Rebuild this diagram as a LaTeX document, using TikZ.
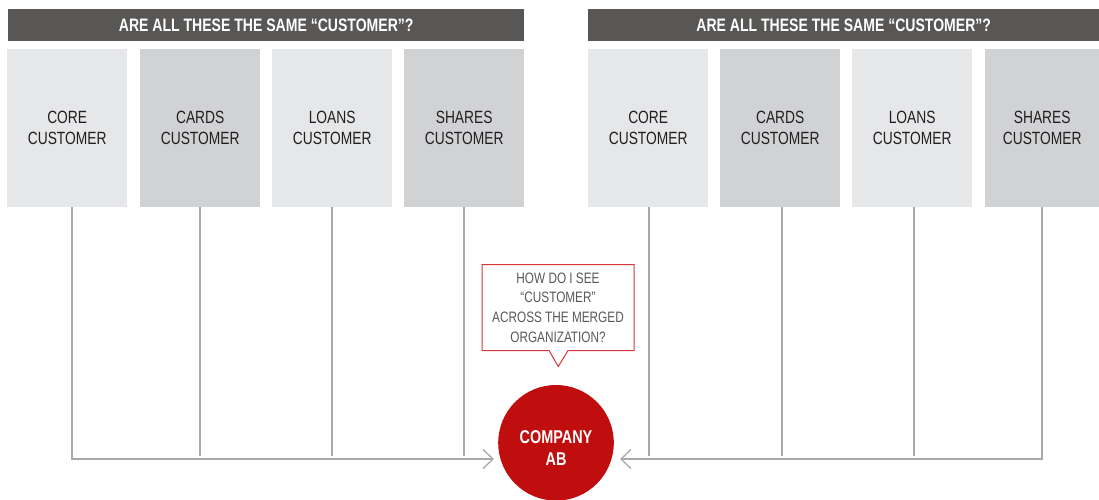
\documentclass[tikz,border=0pt]{standalone}
\usepackage{fontspec}
\setmainfont[FakeStretch=0.78]{Liberation Sans}
\usetikzlibrary{arrows.meta,calc}
\definecolor{hdr}{HTML}{585756}
\definecolor{boxA}{HTML}{E6E7E8}
\definecolor{boxB}{HTML}{D1D2D4}
\definecolor{connc}{HTML}{A7A9AC}
\definecolor{cored}{HTML}{C00D0D}
\definecolor{callred}{HTML}{D6373C}
\definecolor{calltext}{HTML}{58595B}
\definecolor{boxtext}{HTML}{231F20}
\begin{document}
\begin{tikzpicture}[x=1pt,y=-1pt,
  header/.style={fill=hdr,text=white,minimum height=32pt,inner sep=0pt,anchor=north west,minimum width=#1,font=\bfseries\fontsize{18}{20}\selectfont},
  custbox/.style={fill=#1,minimum width=120pt,minimum height=158pt,inner sep=0pt,anchor=north west,align=center,text=boxtext,font=\fontsize{17.7}{21}\selectfont},
  connline/.style={draw=connc,line width=1.5pt},
  conntip/.style={connline,-{Straight Barb[length=10pt,width=19pt,line width=1.3pt]}},
  callbox/.style={draw=callred,line width=1pt,fill=white},
  calltxt/.style={align=center,text=calltext,inner sep=0pt,font=\fontsize{15.1}{19.6}\selectfont},
  companydisc/.style={circle,fill=cored,minimum size=115.6pt,inner sep=0pt},
  companytxt/.style={align=center,text=white,inner sep=0pt,font=\bfseries\fontsize{18.5}{22}\selectfont}
]
\useasboundingbox (0,0) rectangle (1099,499);

% headers
\node[header=516pt] (hl) at (8,9) {ARE ALL THESE THE SAME “CUSTOMER”?};
\node[header=511pt] (hr) at (588,9) {ARE ALL THESE THE SAME “CUSTOMER”?};

% left boxes
\node[custbox=boxA] (l1) at (7,49)   {CORE\\CUSTOMER};
\node[custbox=boxB] (l2) at (140,49) {CARDS\\CUSTOMER};
\node[custbox=boxA] (l3) at (272,49) {LOANS\\CUSTOMER};
\node[custbox=boxB] (l4) at (404,49) {SHARES\\CUSTOMER};

% right boxes
\node[custbox=boxA] (r1) at (588,49) {CORE\\CUSTOMER};
\node[custbox=boxB] (r2) at (720,49) {CARDS\\CUSTOMER};
\node[custbox=boxA] (r3) at (852,49) {LOANS\\CUSTOMER};
\node[custbox=boxB,minimum width=114pt] (r4) at (985,49) {SHARES\\CUSTOMER};

% company
\node[companydisc] (company) at (556,442.8) {};
\node[companytxt] (companylbl) at (556,448) {COMPANY\\AB};

% callout
\draw[callbox] (482,264.5) -- (634,264.5) -- (634,350.5) -- (568,350.5) -- (558.3,366.5) -- (549,350.5) -- (482,350.5) -- cycle;
\node[calltxt] (callout) at (558,307.5) {HOW DO I SEE\\“CUSTOMER”\\ACROSS THE MERGED\\ORGANIZATION?};

% connectors
\coordinate (arrL) at (494,459);
\coordinate (arrR) at (620,459);
\coordinate (bot) at (0,456);

\draw[conntip] ([xshift=5pt]l1.south) |- (arrL);
\draw[connline] (l2.south) -- (l2.south |- bot);
\draw[connline] (l3.south) -- (l3.south |- bot);
\draw[connline] (l4.south) -- (l4.south |- bot);

\draw[conntip] (r4.south) |- (arrR);
\draw[connline] ([xshift=1pt]r1.south) -- ([xshift=1pt]r1.south |- bot);
\draw[connline] ([xshift=2pt]r2.south) -- ([xshift=2pt]r2.south |- bot);
\draw[connline] ([xshift=2pt]r3.south) -- ([xshift=2pt]r3.south |- bot);
\end{tikzpicture}
\end{document}
